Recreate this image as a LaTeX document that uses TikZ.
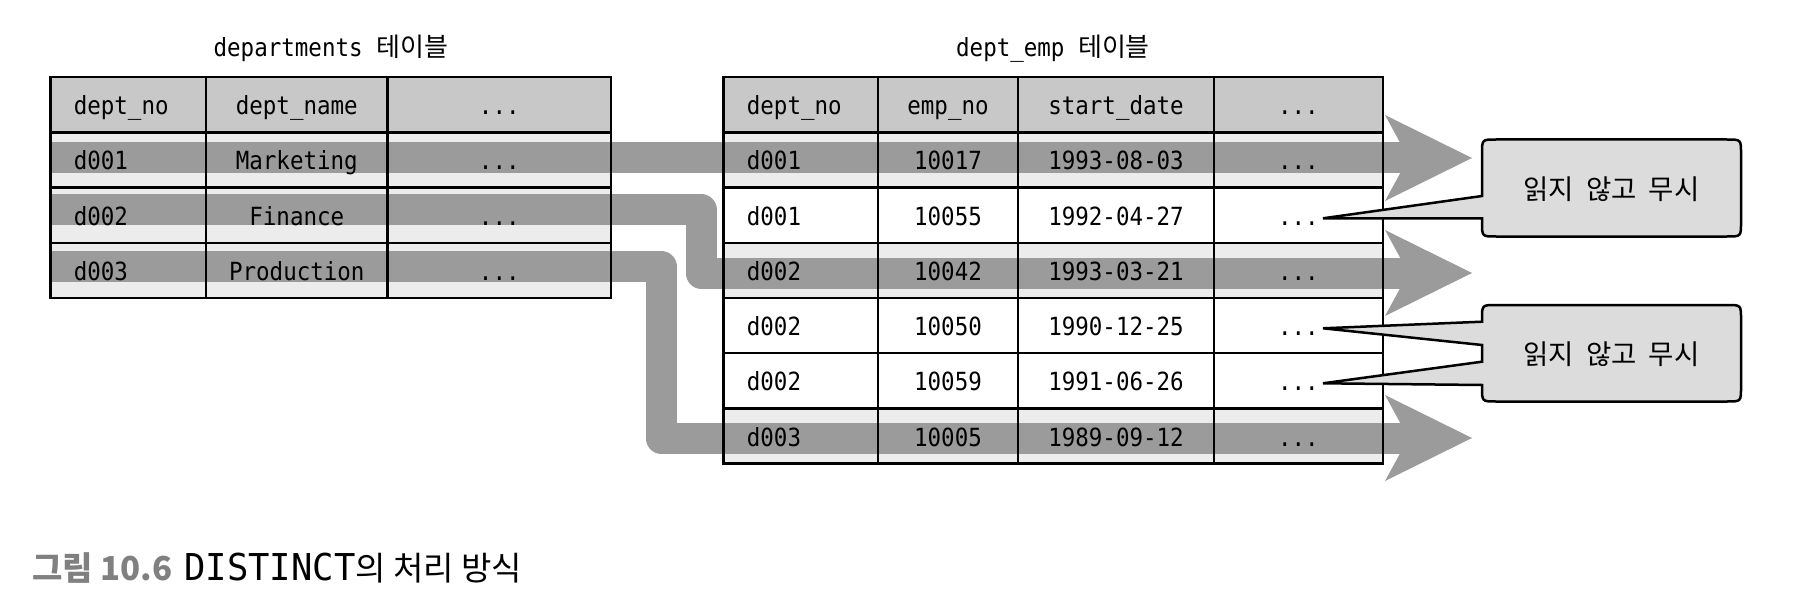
\documentclass[tikz,border=0pt]{standalone}
\usepackage{fontspec}
\newfontfamily\cjk{Noto Sans CJK KR}
\newfontfamily\mono[FakeStretch=0.9]{DejaVu Sans Mono}
\newfontfamily\capmono[FakeStretch=0.96]{DejaVu Sans Mono}
\definecolor{hdr}{HTML}{C8C8C8}
\definecolor{lrow}{HTML}{ECECEC}
\definecolor{bandc}{HTML}{9B9B9B}
\definecolor{callc}{HTML}{DCDCDC}
\definecolor{capg}{HTML}{808080}
\newcommand\tdots{...}
\tikzset{
  txt/.style={inner sep=0pt, font=\mono\fontsize{25}{30}\selectfont, text=black},
  grid/.style={draw=black, line width=2.5pt},
  band/.style={draw=bandc, line width=31pt, line cap=butt, line join=round},
  head/.style={fill=bandc},
  callout/.style={fill=callc, draw=black, line width=2.5pt, line join=miter},
  ctext/.style={inner sep=0pt, font=\cjk\fontsize{27.5}{32}\selectfont},
}
\begin{document}
\begin{tikzpicture}[x=1pt,y=-1pt]
\useasboundingbox (0,0) rectangle (1804,596);
% ---------- cell fills
\fill[hdr] (50.6,77.1) rectangle (610.9,132.3);
\fill[lrow] (50.6,132.3) rectangle (610.9,298);
\fill[hdr] (723.7,77.1) rectangle (1382.9,132.3);
\fill[lrow] (723.7,132.3) rectangle (1382.9,187.5);
\fill[lrow] (723.7,242.8) rectangle (1382.9,298);
\fill[lrow] (723.7,408.4) rectangle (1382.9,463.6);
% ---------- bands (named points)
\coordinate (b1s) at (50.6,158);
\coordinate (b1e) at (1410,158);
\coordinate (b2s) at (50.6,210);
\coordinate (b2a) at (701,210);
\coordinate (b2b) at (701,273);
\coordinate (b2e) at (1410,273);
\coordinate (b3s) at (50.6,266.5);
\coordinate (b3a) at (661,266.5);
\coordinate (b3b) at (661,438);
\coordinate (b3e) at (1410,438);
\draw[band] (b1s) -- (b1e);
\draw[band] (b2s) -- (b2a) -- (b2b) -- (b2e);
\draw[band] (b3s) -- (b3a) -- (b3b) -- (b3e);
\foreach \c in {158,273,438}{
  \fill[head] (1385,\c-43) -- (1472,\c) -- (1385,\c+43) -- (1400,\c+15.5) -- (1400,\c-15.5) -- cycle;
}
% ---------- grids
\draw[grid] (50.6,77.1) rectangle (610.9,298);
\foreach \y in {132.3,187.5,242.8}{\draw[grid] (50.6,\y) -- (610.9,\y);}
\foreach \x in {205.9,387.7}{\draw[grid] (\x,77.1) -- (\x,298);}
\draw[grid] (723.7,77.1) rectangle (1382.9,463.6);
\foreach \y in {132.3,187.5,242.8,298,353.2,408.4}{\draw[grid] (723.7,\y) -- (1382.9,\y);}
\foreach \x in {877.8,1018.2,1213.8}{\draw[grid] (\x,77.1) -- (\x,463.6);}
% ---------- texts
\foreach \a/\b/\c [count=\i from 0] in {dept\_no/dept\_name/\tdots, d001/Marketing/\tdots, d002/Finance/\tdots, d003/Production/\tdots}{
  \pgfmathsetmacro\yb{77.1+55.2*\i+37.7}
  \node[txt,anchor=base west] (L\i-a) at (73.6,\yb) {\a};
  \node[txt,anchor=base] (L\i-b) at (296.8,\yb) {\b};
  \node[txt,anchor=base] (L\i-c) at (499.3,\yb) {\c};
}
\foreach \a/\b/\c/\d [count=\i from 0] in {dept\_no/emp\_no/start\_date/\tdots, d001/10017/1993-08-03/\tdots, d001/10055/1992-04-27/\tdots, d002/10042/1993-03-21/\tdots, d002/10050/1990-12-25/\tdots, d002/10059/1991-06-26/\tdots, d003/10005/1989-09-12/\tdots}{
  \pgfmathsetmacro\yb{77.1+55.2*\i+37.7}
  \node[txt,anchor=base west] (R\i-a) at (746.7,\yb) {\a};
  \node[txt,anchor=base] (R\i-b) at (948,\yb) {\b};
  \node[txt,anchor=base] (R\i-c) at (1116,\yb) {\c};
  \node[txt,anchor=base] (R\i-d) at (1298.4,\yb) {\d};
}
% ---------- titles
\node[txt,anchor=base] (t1) at (330.8,57) {departments {\cjk\fontsize{26}{30}\selectfont 테이블}};
\node[txt,anchor=base] (t2) at (1053,57) {dept\_emp {\cjk\fontsize{26}{30}\selectfont 테이블}};
% ---------- callouts
\draw[callout] (1482,153.5) -- (1482,196) -- (1323,218.3) -- (1482,218.3) -- (1482,222.5)
  .. controls (1482,236.5) .. (1496,236.5) -- (1727,236.5) .. controls (1741,236.5) .. (1741,222.5)
  -- (1741,153.5) .. controls (1741,139.5) .. (1727,139.5) -- (1496,139.5)
  .. controls (1482,139.5) .. (1482,153.5) -- cycle;
\node[ctext] (c1) at (1611.5,189) {읽지\hspace{12pt}않고\hspace{12pt}무시};
\draw[callout] (1482,319) -- (1482,321.7) -- (1323,328.3) -- (1482,345) -- (1482,361.7) -- (1323,383.3) -- (1482,385) -- (1482,387.5)
  .. controls (1482,401.5) .. (1496,401.5) -- (1727,401.5) .. controls (1741,401.5) .. (1741,387.5)
  -- (1741,319) .. controls (1741,305) .. (1727,305) -- (1496,305)
  .. controls (1482,305) .. (1482,319) -- cycle;
\node[ctext] (c2) at (1611.5,354) {읽지\hspace{12pt}않고\hspace{12pt}무시};
% ---------- caption
\node[inner sep=0pt,anchor=base west] (cap) at (32,580) {{\cjk\fontsize{33}{38}\selectfont\bfseries\color{capg}그림 10.6}\hspace{12pt}{\capmono\fontsize{37}{40}\selectfont DISTINCT}{\cjk\fontsize{33}{38}\selectfont 의 처리 방식}};
\end{tikzpicture}
\end{document}
